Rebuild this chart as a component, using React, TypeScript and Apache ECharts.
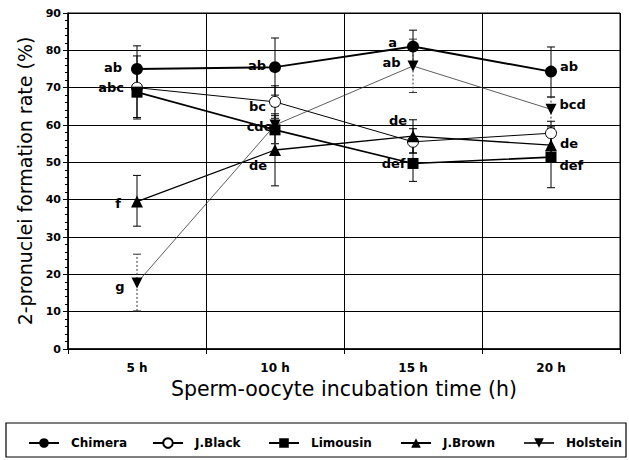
import React, { useEffect, useRef } from "react";
import * as echarts from "echarts";

const categories = ["5 h", "10 h", "15 h", "20 h"];

const chimera = [75, 75.5, 81, 74.3];
const jBlack = [70, 66.2, 55.5, 57.8];
const limousin = [68.8, 58.7, 49.7, 51.4];
const jBrown = [39.5, 53.3, 57, 54.6];
const holstein = [17.7, 60, 75.8, 64.2];

// [lower, upper] of each error bar
const chimeraErr = [[70, 81.2], [68, 83.3], [77, 85.4], [67.5, 80.9]];
const jBlackErr = [[62, 78.5], [61.8, 70.5], [52.5, 59], [54, 61]];
const limousinErr = [[61.6, 76], [55, 62.5], [44.9, 54.5], [43.2, 59.5]];
const jBrownErr = [[32.9, 46.5], [43.7, 63], [52.5, 61.4], [51, 59]];
const holsteinErr = [[10.2, 25.4], [55, 65], [68.7, 83], [58.5, 67.5]];

const chimeraLetters = ["ab", "ab", "a", "ab"];
const jBlackLetters = ["abc", "bc", "", ""];
const limousinLetters = ["", "cde", "def", "def"];
const jBrownLetters = ["f", "de", "de", "de"];
const holsteinLetters = ["g", "", "ab", "bcd"];

const legendNames = ["Chimera", "J.Black", "Limousin", "J.Brown", "Holstein"];
const legendLefts = [23, 147, 263, 395, 518];

const WIDE = "DejaVu Sans, Verdana, sans-serif";

// label placement: [position, dx, dy]
const placeChimera: any[] = [["left", -6, -2], ["left", 0, -2], ["left", -7, -4], ["right", 0, -5]];
const placeBlack: any[] = [["left", -4, 0], ["left", 0, 5], ["left", 0, 0], ["left", 0, 0]];
const placeLim: any[] = [["left", 0, 0], ["left", 6, -3], ["left", 1, 0], ["right", 0, 8]];
const placeBrown: any[] = [["left", -7, 2], ["bottom", -17, 0], ["top", -15, 0], ["right", 0, -2]];
const placeHol: any[] = [["left", -4, 4], ["left", 0, 0], ["left", -4, -4], ["right", 0, -5]];

function withLabels(values: number[], letters: string[], place: any[]) {
  return values.map((v, i) => ({
    value: v,
    label: {
      show: letters[i] !== "",
      formatter: letters[i],
      position: place[i][0],
      offset: [place[i][1], place[i][2]],
      distance: 3,
      color: "#000",
      fontWeight: "bold",
      fontSize: 13,
      fontFamily: WIDE,
    },
  }));
}

function errSeries(err: number[][], dashed: boolean, color: string) {
  return {
    type: "custom",
    z: 1,
    silent: true,
    renderItem: (params: any, api: any) => {
      const idx = api.value(0);
      const lo = api.coord([idx, api.value(1)]);
      const hi = api.coord([idx, api.value(2)]);
      const style = { stroke: color, lineWidth: 1, lineDash: dashed ? [2, 2] : null };
      const cw = 4;
      return {
        type: "group",
        children: [
          { type: "line", shape: { x1: lo[0], y1: lo[1], x2: hi[0], y2: hi[1] }, style },
          { type: "line", shape: { x1: lo[0] - cw, y1: lo[1], x2: lo[0] + cw, y2: lo[1] }, style: { stroke: color, lineWidth: 1 } },
          { type: "line", shape: { x1: hi[0] - cw, y1: hi[1], x2: hi[0] + cw, y2: hi[1] }, style: { stroke: color, lineWidth: 1 } },
        ],
      };
    },
    data: err.map((e, i) => [i, e[0], e[1]]),
  };
}

export default function App() {
  const ref = useRef<HTMLDivElement>(null);
  useEffect(() => {
    const chart = echarts.init(ref.current!, null, { renderer: "svg" });
    chart.setOption({
      animation: false,
      backgroundColor: "#fff",
      grid: {
        left: 68,
        right: 9,
        top: 13,
        bottom: 111,
        show: true,
        borderColor: "#000",
        borderWidth: 1,
      },
      xAxis: {
        type: "category",
        data: categories,
        boundaryGap: true,
        axisLine: { lineStyle: { color: "#000", width: 1.5 } },
        axisTick: { show: true, length: 5, lineStyle: { color: "#000" } },
        axisLabel: { color: "#000", fontWeight: "bold", fontSize: 12, fontFamily: WIDE, margin: 13 },
        splitLine: { show: true, lineStyle: { color: "#000", width: 1 } },
        name: "Sperm-oocyte incubation time (h)",
        nameLocation: "middle",
        nameGap: 29,
        nameTextStyle: { color: "#000", fontSize: 20.5, fontFamily: WIDE },
      },
      yAxis: {
        type: "value",
        min: 0,
        max: 90,
        interval: 10,
        axisLine: { show: true, lineStyle: { color: "#000", width: 1.5 } },
        axisTick: { show: true, length: 5, lineStyle: { color: "#000" } },
        minorTick: { show: true, splitNumber: 5, length: 3, lineStyle: { color: "#000" } },
        axisLabel: {
          color: "#000",
          fontWeight: "bold",
          fontSize: 11,
          fontFamily: WIDE,
          margin: 7,
        },
        splitLine: { show: true, lineStyle: { color: "#000", width: 1 } },
        name: "2-pronuclei formation rate (%)",
        nameLocation: "middle",
        nameGap: 26,
        nameTextStyle: { color: "#000", fontSize: 19, fontFamily: WIDE },
      },
      legend: legendNames.map((n, i) => ({
        top: 432,
        left: legendLefts[i],
        itemWidth: 30,
        itemHeight: 12,
        textStyle: { color: "#000", fontWeight: "bold", fontSize: 12, fontFamily: WIDE, padding: [0, 0, 0, 7] },
        data: [n],
      })),
      graphic: [
        {
          type: "rect",
          shape: { x: 6, y: 423, width: 620, height: 34 },
          style: { fill: "none", stroke: "#000", lineWidth: 1.2 },
        },
      ],
      series: [
        errSeries(chimeraErr, false, "#000"),
        errSeries(jBlackErr, false, "#000"),
        errSeries(limousinErr, false, "#000"),
        errSeries(jBrownErr, false, "#000"),
        errSeries(holsteinErr, true, "#333"),
        {
          name: "Chimera",
          type: "line",
          z: 5,
          data: withLabels(chimera, chimeraLetters, placeChimera),
          symbol: "circle",
          symbolSize: 12,
          itemStyle: { color: "#000" },
          lineStyle: { color: "#000", width: 2 },
        },
        {
          name: "J.Black",
          type: "line",
          z: 5,
          data: withLabels(jBlack, jBlackLetters, placeBlack),
          symbol: "circle",
          symbolSize: 11,
          itemStyle: { color: "#fff", borderColor: "#000", borderWidth: 1 },
          lineStyle: { color: "#000", width: 1 },
        },
        {
          name: "Limousin",
          type: "line",
          z: 5,
          data: withLabels(limousin, limousinLetters, placeLim),
          symbol: "rect",
          symbolSize: 11,
          itemStyle: { color: "#000" },
          lineStyle: { color: "#000", width: 1.6 },
        },
        {
          name: "J.Brown",
          type: "line",
          z: 5,
          data: withLabels(jBrown, jBrownLetters, placeBrown),
          symbol: "triangle",
          symbolSize: 12,
          itemStyle: { color: "#000" },
          lineStyle: { color: "#000", width: 1.3 },
        },
        {
          name: "Holstein",
          type: "line",
          z: 5,
          data: withLabels(holstein, holsteinLetters, placeHol),
          symbol: "triangle",
          symbolRotate: 180,
          symbolSize: 11,
          itemStyle: { color: "#000" },
          lineStyle: { color: "#333", width: 0.8 },
        },
      ],
    });
    return () => chart.dispose();
  }, []);
  return <div ref={ref} style={{ width: 629, height: 460, position: "absolute", left: 0, top: 0 }} />;
}
